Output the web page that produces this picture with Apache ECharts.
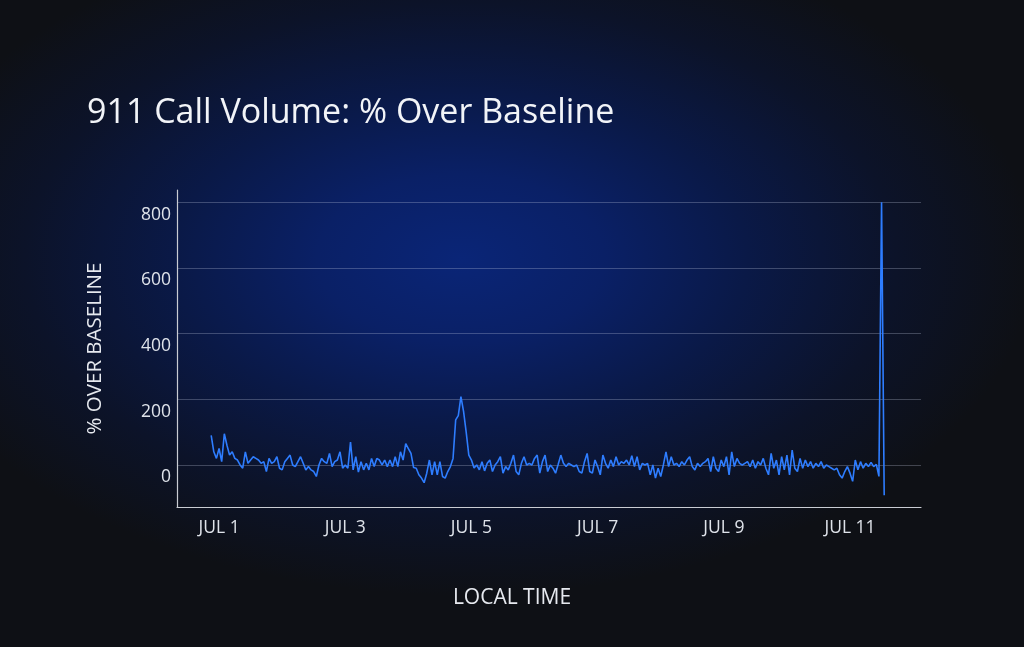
<!DOCTYPE html>
<html>
<head>
<meta charset="utf-8">
<script src="https://cdn.jsdelivr.net/npm/echarts@6/dist/echarts.min.js"></script>
<style>
html,body{margin:0;padding:0;width:1024px;height:647px;overflow:hidden;}
body{background: radial-gradient(ellipse 56% 52% at 45% 40%, #0a2577 0%, #0a2066 25%, #0a1947 50%, #0c1329 76%, #0e1015 100%);}
#chart{width:1024px;height:647px;}
</style>
</head>
<body>
<div id="chart"></div>
<script>
// ---- data (hourly, % over baseline) ----
const seriesStartUTC = [2023, 5, 30, 21]; // Jun 30, 21:00
const jun30 = [90, 40, 20];
const jul01 = [50, 10, 95, 60, 30, 40, 20, 15, 0, -10, 40, 5, 15, 25, 20, 15, 5, 10, -20, 20, 5, 10, 25, -10];
const jul02 = [-15, 10, 20, 30, 0, -5, 10, 25, 5, -15, -5, -15, -20, -35, 0, 20, 10, 5, 35, -5, 10, 15, 40, -10];
const jul03 = [0, -10, 70, -15, 25, -22, 10, -15, 5, -15, 20, -5, 20, 15, 0, 15, -5, 15, -5, 25, -5, 40, 15, 65];
const jul04 = [50, 35, -8, -10, -30, -40, -54, -25, 15, -30, 10, -30, 10, -35, -40, -20, -5, 20, 137, 150, 208, 163, 100, 30];
const jul05 = [15, -9, 0, -15, 10, -18, 5, 15, -20, 0, 10, 25, -25, -5, -15, 5, 30, -20, -30, 5, 25, 0, 5, 0];
const jul06 = [20, 30, -25, 10, 30, -20, 0, -10, -25, 2, 30, 5, -5, 5, 0, -5, 0, -20, -25, 10, 35, -20, -25, 15];
const jul07 = [-5, -30, 30, 5, -10, 15, -5, 25, 0, 10, 5, 15, 0, 28, -5, 25, -15, 5, 0, 5, -30, 0, -40, -10];
const jul08 = [-35, 0, 40, -5, 25, 0, 5, -5, 10, 0, 15, 25, -5, -15, 5, -5, 5, 10, 20, -20, 25, -10, -20, 15];
const jul09 = [-5, 25, -30, 40, -5, 20, 5, 0, 5, 10, -5, 15, -10, 10, 0, 20, -10, -30, 35, -10, 15, -30, 25, -15];
const jul10 = [30, -30, 45, -10, -20, 20, -10, 15, -5, 10, -10, 5, -5, 10, -10, 0, -5, -10, -15, -10, -30, -40, -20, -5];
const jul11 = [-25, -50, 15, -15, 10, -10, 5, -5, 8, -5, 2, -35, 800, -92];

const xTickDays = [1, 3, 5, 7, 9, 11];          // July dates shown on x axis
const yTickValues = [0, 200, 400, 600, 800];

const titleText = '911 Call Volume: % Over Baseline';
const yAxisTitle = '% OVER BASELINE';
const xAxisTitle = 'LOCAL TIME';

// axis extents
const xMinUTC = Date.UTC(2023, 5, 30, 8);
const xMaxUTC = Date.UTC(2023, 6, 12, 3);
const yMin = -128, yMax = 837;

// ---- build ----
const HOUR = 3600 * 1000;
const allValues = [].concat(jun30, jul01, jul02, jul03, jul04, jul05, jul06, jul07, jul08, jul09, jul10, jul11);
const t0 = Date.UTC.apply(null, seriesStartUTC);
const lineData = allValues.map((v, i) => [t0 + i * HOUR, v]);
const xTicks = xTickDays.map(d => Date.UTC(2023, 6, d));

const font = "'Open Sans', 'Noto Sans', sans-serif";
const chart = echarts.init(document.getElementById('chart'), null, {renderer: 'canvas'});
chart.setOption({
  backgroundColor: 'transparent',
  animation: false,
  title: {
    text: titleText,
    left: 82, top: 91,
    textStyle: {color: '#f2f4f8', fontSize: 34, fontWeight: 'normal', fontFamily: font}
  },
  grid: {left: 177, right: 103, top: 190, bottom: 140, containLabel: false, outerBoundsMode: 'none'},
  xAxis: {
    type: 'value',
    min: xMinUTC, max: xMaxUTC,
    name: xAxisTitle,
    nameLocation: 'middle',
    nameGap: 81,
    nameTextStyle: {color: '#e6e9ef', fontSize: 21, fontFamily: font, padding: [0, 74, 0, 0]},
    axisLine: {show: true, onZero: false, lineStyle: {color: '#c9ccd3', width: 1.2}},
    axisTick: {show: false, customValues: xTicks},
    splitLine: {show: false},
    axisLabel: {
      customValues: xTicks,
      color: '#dfe3ea', fontSize: 17.5, fontFamily: font, margin: 12,
      formatter: v => 'JUL ' + new Date(v).getUTCDate()
    }
  },
  yAxis: {
    type: 'value',
    min: yMin, max: yMax,
    name: yAxisTitle,
    nameLocation: 'middle',
    nameGap: 71,
    nameTextStyle: {color: '#e6e9ef', fontSize: 20.5, fontFamily: font},
    axisLine: {show: true, onZero: false, lineStyle: {color: '#c9ccd3', width: 1.2}},
    axisTick: {show: false, customValues: yTickValues},
    splitLine: {show: true, lineStyle: {color: 'rgba(200,210,230,0.28)', width: 1}},
    axisLabel: {
      customValues: yTickValues,
      color: '#dfe3ea', fontSize: 17.5, fontFamily: font, margin: 6,
      verticalAlign: 'top', lineHeight: 25
    }
  },
  series: [{
    type: 'line',
    data: lineData,
    showSymbol: false,
    lineStyle: {color: '#2e7dff', width: 1.6},
    itemStyle: {color: '#2e7dff'}
  }]
});
</script>
</body>
</html>
